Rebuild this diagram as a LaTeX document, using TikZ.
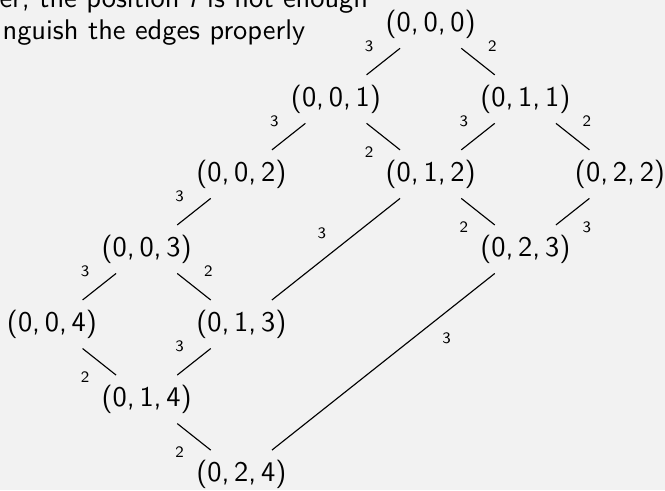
\documentclass[tikz,border=0pt]{standalone}
\renewcommand{\familydefault}{\sfdefault}
\definecolor{slidebg}{HTML}{F2F2F2}
\begin{document}
\begin{tikzpicture}[x=33.3pt,y=-26.4pt,
    state/.style={font=\fontsize{10}{12}\selectfont},
    wt/.style={font=\fontsize{5.6}{7}\selectfont}]
    % slide background, fixes the margins
    \fill[slidebg] (-0.549,-0.32) rectangle (6.475,6.213);
    \useasboundingbox (-0.549,-0.32) rectangle (6.475,6.213);
    % slide text, cut off at the top
    \node[anchor=base west,inner sep=0] (line1) at (-0.56,-0.223) {er, the position \textit{i} is not enough};
    \node[anchor=base west,inner sep=0] (line2) at (-0.528,0.2) {nguish the edges properly};
    % states
    \node[state] (s000) at (4,0) {(0,\,0,\,0)};
    \node[state] (s001) at (3,1) {(0,\,0,\,1)};
    \node[state] (s011) at (5,1) {(0,\,1,\,1)};
    \node[state] (s002) at (2,2) {(0,\,0,\,2)};
    \node[state] (s012) at (4,2) {(0,\,1,\,2)};
    \node[state] (s022) at (6,2) {(0,\,2,\,2)};
    \node[state] (s003) at (1,3) {(0,\,0,\,3)};
    \node[state] (s023) at (5,3) {(0,\,2,\,3)};
    \node[state] (s004) at (0,4) {(0,\,0,\,4)};
    \node[state] (s013) at (2,4) {(0,\,1,\,3)};
    \node[state] (s014) at (1,5) {(0,\,1,\,4)};
    \node[state] (s024) at (2,6) {(0,\,2,\,4)};
    % edges with their weights
    \draw (s000) -- node[wt,midway,above left]{3} (s001);
    \draw (s000) -- node[wt,midway,above right]{2} (s011);
    \draw (s001) -- node[wt,midway,above left]{3} (s002);
    \draw (s001) -- node[wt,midway,below left]{2} (s012);
    \draw (s011) -- node[wt,midway,above left]{3} (s012);
    \draw (s011) -- node[wt,midway,above right]{2} (s022);
    \draw (s002) -- node[wt,midway,above left]{3} (s003);
    \draw (s012) -- node[wt,midway,above left]{3} (s013);
    \draw (s012) -- node[wt,midway,below left]{2} (s023);
    \draw (s022) -- node[wt,midway,below right]{3} (s023);
    \draw (s003) -- node[wt,midway,above left]{3} (s004);
    \draw (s003) -- node[wt,midway,above right]{2} (s013);
    \draw (s004) -- node[wt,midway,below left]{2} (s014);
    \draw (s013) -- node[wt,midway,above left]{3} (s014);
    \draw (s014) -- node[wt,midway,below left]{2} (s024);
    \draw (s023) -- node[wt,pos=0.28,below right]{3} (s024);
\end{tikzpicture}
\end{document}
